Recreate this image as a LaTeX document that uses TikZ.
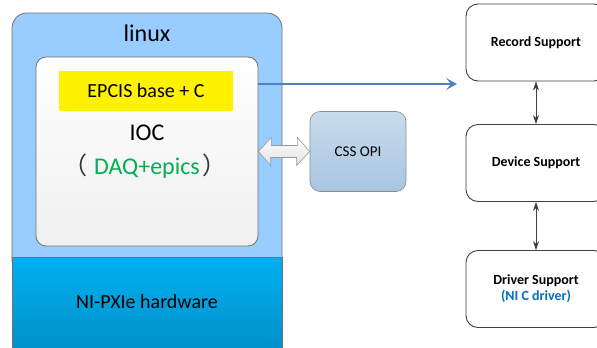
\documentclass[tikz,border=0pt]{standalone}
\usepackage{fontspec}
\setmainfont{Carlito}
\newfontfamily\cjk{Noto Sans CJK SC}
\usetikzlibrary{arrows.meta}

\definecolor{linuxblue}{RGB}{153,204,255}
\definecolor{hwtop}{RGB}{0,176,240}
\definecolor{hwbot}{RGB}{0,144,200}
\definecolor{epicsgreen}{RGB}{0,176,80}
\definecolor{drvblue}{RGB}{0,112,192}
\definecolor{linkblue}{RGB}{79,129,189}
\definecolor{opitop}{RGB}{200,220,236}
\definecolor{opibot}{RGB}{168,197,224}
\definecolor{edgegray}{RGB}{112,112,112}

\tikzset{
    layerbox/.style={draw=edgegray, line width=0.8pt},
    supportbox/.style={draw=black!75, line width=0.9pt, fill=white, rounded corners=12pt,
        minimum width=140pt, minimum height=77pt, font=\fontsize{14}{18}\selectfont\bfseries, align=center},
    bigtext/.style={font=\fontsize{24}{28}\selectfont},
    midtext/.style={font=\fontsize{20}{24}\selectfont}
}

\begin{document}
\begin{tikzpicture}[x=1pt, y=-1pt]
    \useasboundingbox (0,0) rectangle (597,348);
    \clip (0,0) rectangle (597,348);

    % linux layer and hardware
    \draw[layerbox, fill=linuxblue, rounded corners=15pt] (12,13) rectangle (282,275);
    \node[layerbox, top color=hwtop, bottom color=hwbot, minimum width=270pt, minimum height=95pt,
        anchor=north west, inner sep=0pt] (hw) at (12,257) {};
    \node[midtext] (hwlabel) at (147,302) {NI-PXIe hardware};
    \node[bigtext] (linux) at (147,33) {linux};

    % IOC
    \node[layerbox, top color=white, bottom color=black!6, rounded corners=10pt,
        minimum width=222pt, minimum height=189pt] (ioc) at (147,151.5) {};
    \node[fill=yellow, minimum width=174pt, minimum height=40pt, midtext] (base) at (146,91) {EPCIS base + C};
    \node[bigtext] (ioclabel) at (147,133) {IOC};
    \node[bigtext] (daq) at (145,166) {{\cjk\textcolor{black!80}{（}}\hspace{7pt}\textcolor{epicsgreen}{DAQ+epics}\hspace{3pt}{\cjk\textcolor{black!80}{）}}};

    % OPI
    \node[draw=black!45, line width=0.6pt, top color=opitop, bottom color=opibot, rounded corners=10pt,
        minimum width=96pt, minimum height=80pt, font=\fontsize{15}{18}\selectfont] (opi) at (358,151.5) {CSS OPI};
    \path[draw=black!40, line width=0.6pt, top color=white, bottom color=black!12]
        (ioc.east) -- ++(13,-14) -- ++(0,8) -- ++(26,0) -- ++(0,-8) -- (opi.west)
        -- ++(-13,14) -- ++(0,-8) -- ++(-26,0) -- ++(0,8) -- cycle;

    % support layers
    \node[supportbox] (record) at (536,42.5) {Record Support};
    \node[supportbox] (device) at (536,163) {Device Support};
    \node[supportbox] (driver) at (536,289) {Driver Support\\[-2pt]\textcolor{drvblue}{(NI C driver)}};

    \coordinate (recin) at (457,84);
    \draw[linkblue, line width=1.8pt, -{Stealth[length=11pt, width=12pt, inset=5pt]}] (ioc.east |- recin) -- (recin);
    \draw[black!75, line width=0.7pt, {Stealth[length=9pt, width=6pt]}-{Stealth[length=9pt, width=6pt]}] (record) -- (device);
    \draw[black!75, line width=0.7pt, {Stealth[length=9pt, width=6pt]}-{Stealth[length=9pt, width=6pt]}] (device) -- (driver);
\end{tikzpicture}
\end{document}
